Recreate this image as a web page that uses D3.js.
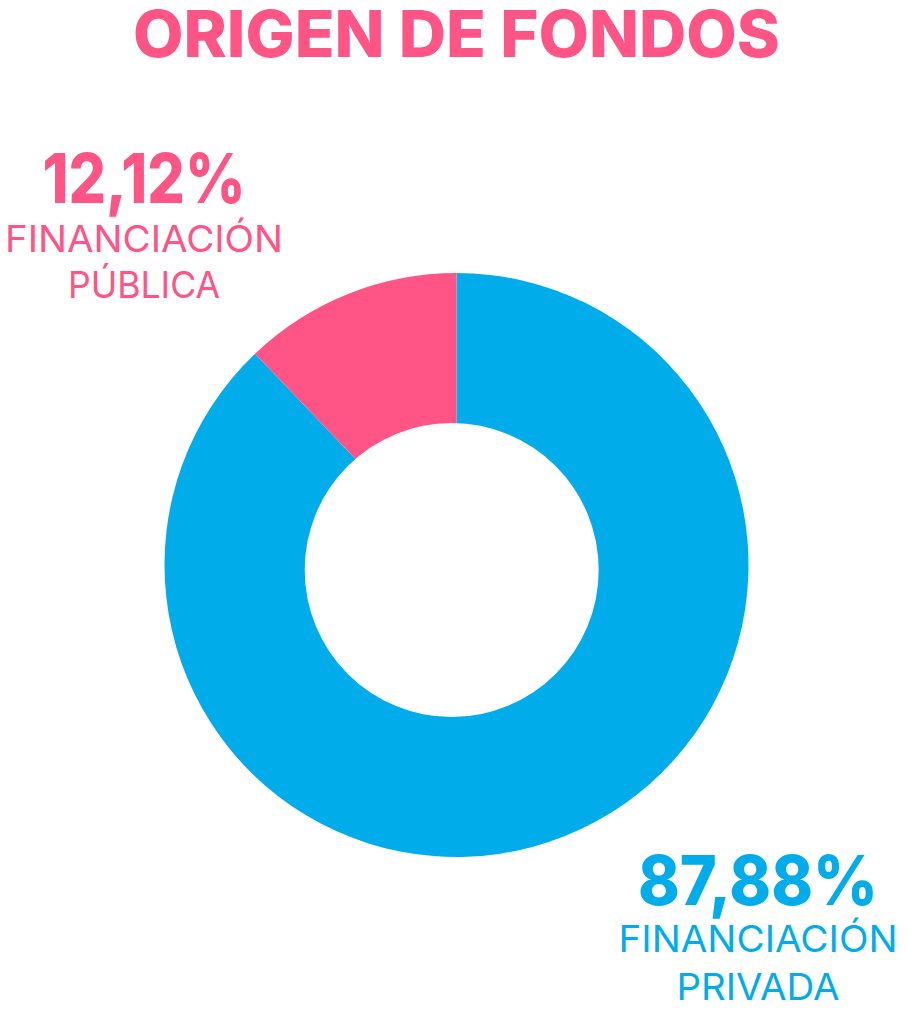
<!DOCTYPE html>
<html>
<head>
<meta charset="utf-8">
<script src="https://cdn.jsdelivr.net/npm/d3@7/dist/d3.min.js"></script>
<style>
  html, body { margin: 0; padding: 0; background: #fff; }
  svg { display: block; }
</style>
</head>
<body>
<svg id="chart" width="911" height="1024"></svg>
<script>
// ---- Data ----
const title = "ORIGEN DE FONDOS";
const categories = ["FINANCIACIÓN PRIVADA", "FINANCIACIÓN PÚBLICA"];
const values = [87.88, 12.12];
const valueLabels = ["87,88%", "12,12%"];
const labelLines = [["FINANCIACIÓN", "PRIVADA"], ["FINANCIACIÓN", "PÚBLICA"]];
const colors = ["#00ADEA", "#FF5486"];

// ---- Layout ----
const W = 911, H = 1024;
const cx = 456.5, cy = 565, R = 292;
const hole = { dx: -4.8, dy: 5, r: 147 };
const svg = d3.select("#chart");
const FONT = "Inter, 'Open Sans', 'DejaVu Sans', sans-serif";

// Title
svg.append("text")
  .attr("x", 456.5).attr("y", 57)
  .attr("text-anchor", "middle")
  .attr("fill", colors[1])
  .attr("font-family", FONT)
  .attr("font-weight", 800)
  .attr("font-size", 64)
  .attr("textLength", 647)
  .attr("lengthAdjust", "spacingAndGlyphs")
  .text(title);

// Pie
const pie = d3.pie().sort(null).value(d => d);
const arc = d3.arc().innerRadius(0).outerRadius(R);
const g = svg.append("g").attr("transform", `translate(${cx},${cy})`);
g.selectAll("path.slice")
  .data(pie(values))
  .join("path")
  .attr("class", "slice")
  .attr("d", arc)
  .attr("fill", (d, i) => colors[i]);
// Hole
g.append("circle")
  .attr("cx", hole.dx).attr("cy", hole.dy).attr("r", hole.r)
  .attr("fill", "#fff");

// Labels
const labelSpecs = [
  { x: 758, pctY: 905, pctW: 240, lines: [{ y: 952, w: 279 }, { y: 1000, w: 163 }] },
  { x: 144, pctY: 203, pctW: 203, lines: [{ y: 252, w: 278 }, { y: 298, w: 152 }] }
];
labelSpecs.forEach((s, i) => {
  svg.append("text")
    .attr("x", s.x).attr("y", s.pctY)
    .attr("text-anchor", "middle")
    .attr("fill", colors[i])
    .attr("font-family", FONT)
    .attr("font-weight", 800)
    .attr("font-size", 69)
    .attr("textLength", s.pctW)
    .attr("lengthAdjust", "spacingAndGlyphs")
    .text(valueLabels[i]);
  labelLines[i].forEach((line, j) => {
    svg.append("text")
      .attr("x", s.x).attr("y", s.lines[j].y)
      .attr("text-anchor", "middle")
      .attr("fill", colors[i])
      .attr("font-family", FONT)
      .attr("font-weight", 400)
      .attr("font-size", 37)
      .attr("textLength", s.lines[j].w)
      .attr("lengthAdjust", "spacingAndGlyphs")
      .text(line);
  });
});
</script>
</body>
</html>
